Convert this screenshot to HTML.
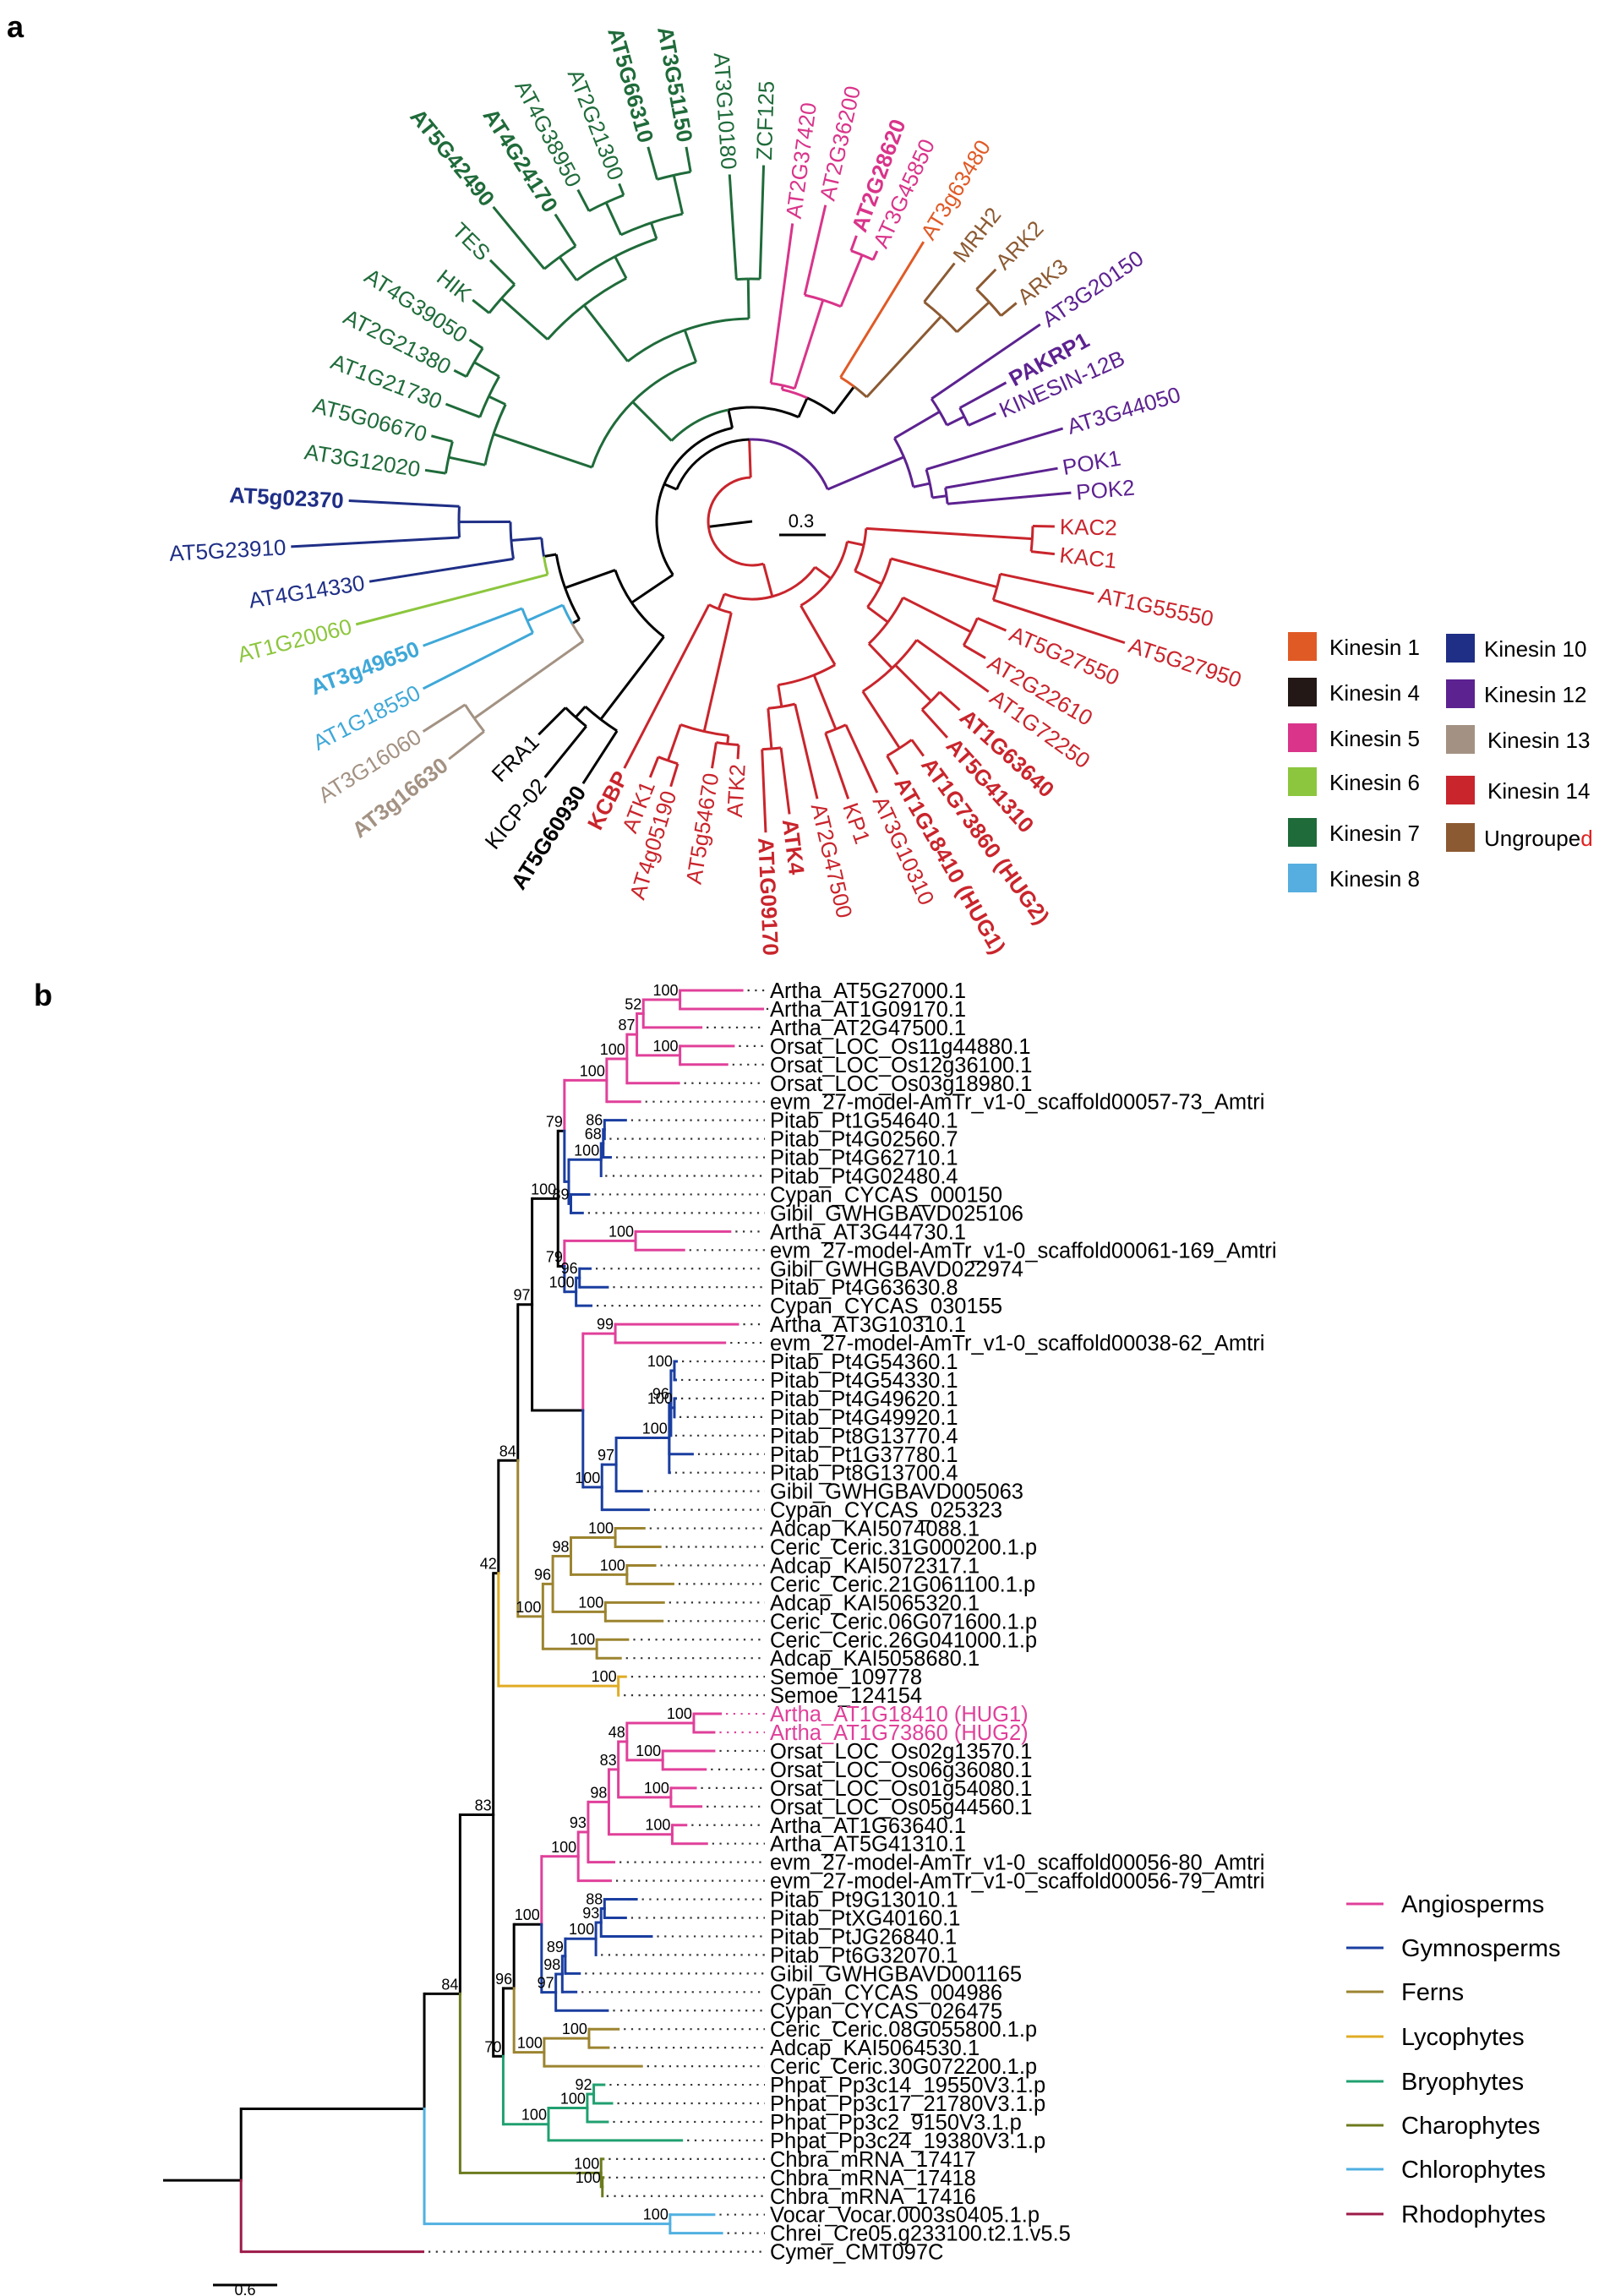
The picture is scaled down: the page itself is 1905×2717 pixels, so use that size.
<!DOCTYPE html>
<html><head><meta charset="utf-8"><style>
html,body{margin:0;padding:0;background:#fff;}
svg{display:block;font-family:"Liberation Sans",Arial,sans-serif;}
</style></head><body>
<svg id="s" width="1905" height="2717" viewBox="0 0 1905 2717" xmlns="http://www.w3.org/2000/svg">
<rect width="1905" height="2717" fill="#fff"/>
<text x="8" y="44" font-size="36" font-weight="bold">a</text>
<text x="40" y="1190" font-size="36" font-weight="bold">b</text>
<g id="ga"></g><g id="gb"></g>
<!-- legend a -->
<g font-size="26">
<rect x="1524" y="748" width="34" height="34" fill="#e05a26"/><text x="1573" y="775">Kinesin 1</text>
<rect x="1524" y="802" width="34" height="34" fill="#231816"/><text x="1573" y="829">Kinesin 4</text>
<rect x="1524" y="856" width="34" height="34" fill="#d9348a"/><text x="1573" y="883">Kinesin 5</text>
<rect x="1524" y="908" width="34" height="34" fill="#8cc63e"/><text x="1573" y="935">Kinesin 6</text>
<rect x="1524" y="968" width="34" height="34" fill="#1f6b3a"/><text x="1573" y="995">Kinesin 7</text>
<rect x="1524" y="1022" width="34" height="34" fill="#55aedf"/><text x="1573" y="1049">Kinesin 8</text>
<rect x="1711" y="750" width="34" height="34" fill="#1f2f86"/><text x="1756" y="777">Kinesin 10</text>
<rect x="1711" y="804" width="34" height="34" fill="#5c2290"/><text x="1756" y="831">Kinesin 12</text>
<rect x="1711" y="858" width="34" height="34" fill="#a39283"/><text x="1760" y="885">Kinesin 13</text>
<rect x="1711" y="918" width="34" height="34" fill="#c9252c"/><text x="1760" y="945">Kinesin 14</text>
<rect x="1711" y="974" width="34" height="34" fill="#8c5a32"/><text x="1756" y="1001">Ungroupe<tspan fill="#e02020">d</tspan></text>
</g>
<!-- legend b -->
<g font-size="29" stroke-width="3">
<line x1="1593" y1="2253" x2="1637" y2="2253" stroke="#e0409a"/><text x="1658" y="2263" stroke="none">Angiosperms</text>
<line x1="1593" y1="2305" x2="1637" y2="2305" stroke="#1a3ea0"/><text x="1658" y="2315" stroke="none">Gymnosperms</text>
<line x1="1593" y1="2357" x2="1637" y2="2357" stroke="#9c8430"/><text x="1658" y="2367" stroke="none">Ferns</text>
<line x1="1593" y1="2410" x2="1637" y2="2410" stroke="#e0ac24"/><text x="1658" y="2420" stroke="none">Lycophytes</text>
<line x1="1593" y1="2463" x2="1637" y2="2463" stroke="#20a070"/><text x="1658" y="2473" stroke="none">Bryophytes</text>
<line x1="1593" y1="2515" x2="1637" y2="2515" stroke="#6c7a1e"/><text x="1658" y="2525" stroke="none">Charophytes</text>
<line x1="1593" y1="2567" x2="1637" y2="2567" stroke="#50b0e0"/><text x="1658" y="2577" stroke="none">Chlorophytes</text>
<line x1="1593" y1="2620" x2="1637" y2="2620" stroke="#9c1a48"/><text x="1658" y="2630" stroke="none">Rhodophytes</text>
</g>
<line x1="252" y1="2704" x2="328" y2="2704" stroke="#000" stroke-width="3"/>
<text x="290" y="2716" font-size="18" text-anchor="middle">0.6</text>
<line x1="922" y1="633" x2="977" y2="633" stroke="#000" stroke-width="3"/>
<text x="948" y="624" font-size="22" text-anchor="middle">0.3</text>
</svg>
<script>
var NS="http://www.w3.org/2000/svg";
function el(p,t,a,txt){var e=document.createElementNS(NS,t);for(var k in a)e.setAttribute(k,a[k]);if(txt!=null)e.textContent=txt;p.appendChild(e);return e;}
var A="#e0409a",G="#1a3ea0",F="#9c8430",Ly="#e0ac24",Br="#20a070",Ch="#6c7a1e",Cl="#50b0e0",R="#9c1a48",K="#000";
function N(x,c,b,ch){return {x:150+x/1.96,c:c,b:b,ch:ch};}
function L(n,x,c,lc){return {x:150+x/1.96,c:c,n:n,lc:lc};}
var HP="#e0409a";
var tb=N(265,K,'',[
 N(690,K,'',[
  N(773,K,'84',[
   N(850,K,'83',[
    N(862,K,'42',[
     N(907,K,'84',[
      N(940,K,'97',[
       N(1000,K,'100',[
        N(1015,K,'79',[
         N(1113,A,'100',[
          N(1160,A,'100',[
           N(1183,A,'87',[
            N(1198,A,'52',[
             N(1283,A,'100',[L('Artha_AT5G27000.1',1430,A),L('Artha_AT1G09170.1',1478,A)]),
             L('Artha_AT2G47500.1',1335,A)]),
            N(1283,A,'100',[L('Orsat_LOC_Os11g44880.1',1410,A),L('Orsat_LOC_Os12g36100.1',1395,A)])]),
           L('Orsat_LOC_Os03g18980.1',1283,A)]),
          L('evm_27-model-AmTr_v1-0_scaffold00057-73_Amtri',1193,A)]),
         N(1025,G,'',[
          N(1100,G,'100',[
           N(1105,G,'68',[N(1108,G,'86',[L('Pitab_Pt1G54640.1',1160,G),L('Pitab_Pt4G02560.7',1110,G)]),L('Pitab_Pt4G62710.1',1125,G)]),
           L('Pitab_Pt4G02480.4',1100,G)]),
          N(1030,G,'89',[L('Cypan_CYCAS_000150',1075,G),L('Gibil_GWHGBAVD025106',1060,G)])])]),
        N(1015,K,'79',[
         N(1180,A,'100',[L('Artha_AT3G44730.1',1402,A),L('evm_27-model-AmTr_v1-0_scaffold00061-169_Amtri',1295,A)]),
         N(1042,G,'100',[N(1050,G,'96',[L('Gibil_GWHGBAVD022974',1078,G),L('Pitab_Pt4G63630.8',1118,G)]),L('Cypan_CYCAS_030155',1080,G)])])]),
       N(1058,K,'',[
        N(1133,A,'99',[L('Artha_AT3G10310.1',1420,A),L('evm_27-model-AmTr_v1-0_scaffold00038-62_Amtri',1390,A)]),
        N(1102,G,'100',[
         N(1135,G,'97',[
          N(1258,G,'100',[
           N(1262,G,'96',[
            N(1270,G,'100',[L('Pitab_Pt4G54360.1',1278,G),L('Pitab_Pt4G54330.1',1276,G)]),
            N(1270,G,'100',[L('Pitab_Pt4G49620.1',1276,G),L('Pitab_Pt4G49920.1',1272,G)]),
            L('Pitab_Pt8G13770.4',1262,G)]),
           L('Pitab_Pt1G37780.1',1315,G),
           L('Pitab_Pt8G13700.4',1262,G)]),
          L('Gibil_GWHGBAVD005063',1197,G)]),
         L('Cypan_CYCAS_025323',1213,G)])])]),
      N(965,F,'100',[
       N(988,F,'96',[
        N(1030,F,'98',[
         N(1133,F,'100',[L('Adcap_KAI5074088.1',1203,F),L('Ceric_Ceric.31G000200.1.p',1240,F)]),
         N(1160,F,'100',[L('Adcap_KAI5072317.1',1228,F),L('Ceric_Ceric.21G061100.1.p',1270,F)])]),
        N(1110,F,'100',[L('Adcap_KAI5065320.1',1248,F),L('Ceric_Ceric.06G071600.1.p',1245,F)])]),
       N(1090,F,'100',[L('Ceric_Ceric.26G041000.1.p',1165,F),L('Adcap_KAI5058680.1',1148,F)])])]),
     N(1140,Ly,'100',[L('Semoe_109778',1160,Ly),L('Semoe_124154',1143,Ly)])]),
    N(873,K,'70',[
     N(898,K,'96',[
      N(962,K,'100',[
       N(1047,A,'100',[
        N(1070,A,'93',[
         N(1118,A,'98',[
          N(1140,A,'83',[
           N(1160,A,'48',[
            N(1315,A,'100',[L('Artha_AT1G18410 (HUG1)',1380,A,HP),L('Artha_AT1G73860 (HUG2)',1365,A,HP)]),
            N(1243,A,'100',[L('Orsat_LOC_Os02g13570.1',1365,A),L('Orsat_LOC_Os06g36080.1',1345,A)])]),
           N(1262,A,'100',[L('Orsat_LOC_Os01g54080.1',1322,A),L('Orsat_LOC_Os05g44560.1',1335,A)])]),
          N(1265,A,'100',[L('Artha_AT1G63640.1',1300,A),L('Artha_AT5G41310.1',1348,A)])]),
         L('evm_27-model-AmTr_v1-0_scaffold00056-80_Amtri',1133,A)]),
        L('evm_27-model-AmTr_v1-0_scaffold00056-79_Amtri',1125,A)]),
       N(995,G,'97',[
        N(1010,G,'98',[
         N(1017,G,'89',[
          N(1088,G,'100',[
           N(1100,G,'93',[N(1108,G,'88',[L('Pitab_Pt9G13010.1',1185,G),L('Pitab_PtXG40160.1',1160,G)]),L('Pitab_PtJG26840.1',1220,G)]),
           L('Pitab_Pt6G32070.1',1090,G)]),
          L('Gibil_GWHGBAVD001165',1053,G)]),
         L('Cypan_CYCAS_004986',1045,G)]),
        L('Cypan_CYCAS_026475',1118,G)])]),
      N(968,F,'100',[N(1072,F,'100',[L('Ceric_Ceric.08G055800.1.p',1143,F),L('Adcap_KAI5064530.1',1120,F)]),L('Ceric_Ceric.30G072200.1.p',1197,F)])]),
     N(978,Br,'100',[N(1068,Br,'100',[N(1083,Br,'92',[L('Phpat_Pp3c14_19550V3.1.p',1110,Br),L('Phpat_Pp3c17_21780V3.1.p',1128,Br)]),L('Phpat_Pp3c2_9150V3.1.p',1118,Br)]),L('Phpat_Pp3c24_19380V3.1.p',1290,Br)])])]),
   N(1100,Ch,'100',[L('Chbra_mRNA_17417',1108,Ch),N(1103,Ch,'100',[L('Chbra_mRNA_17418',1108,Ch),L('Chbra_mRNA_17416',1103,Ch)])])]),
  N(1260,Cl,'100',[L('Vocar_Vocar.0003s0405.1.p',1365,Cl),L('Chrei_Cre05.g233100.t2.1.v5.5',1383,Cl)])]),
 L('Cymer_CMT097C',690,R)
]);
var gb=document.getElementById('gb'),li=0;
function sety(n){if(!n.ch){n.y=1172+li*21.95;li++;return n.y;}n.ch.forEach(sety);n.y=(n.ch[0].y+n.ch[n.ch.length-1].y)/2;return n.y;}
sety(tb);
function drawB(n,p){
 if(p){el(gb,'line',{x1:p.x,y1:p.y,x2:p.x,y2:n.y,stroke:n.c,'stroke-width':3,'stroke-linecap':'square'});
  el(gb,'line',{x1:p.x,y1:n.y,x2:n.x,y2:n.y,stroke:n.c,'stroke-width':3});}
 if(n.ch){n.ch.forEach(function(c){drawB(c,n);});
  if(n.b)el(gb,'text',{x:n.x-2,y:n.y-5,'font-size':18,'text-anchor':'end'},n.b);}
 else{el(gb,'line',{x1:n.x+5,y1:n.y,x2:905,y2:n.y,stroke:n.lc||'#333','stroke-width':2.2,'stroke-dasharray':'2.2,6.5'});
  el(gb,'text',{x:911,y:n.y+9,'font-size':25.5,fill:n.lc||'#000'},n.n);}
}
el(gb,'line',{x1:193,y1:tb.y,x2:tb.x,y2:tb.y,stroke:K,'stroke-width':3});
drawB(tb,null);
var cx=890,cy=617;
var cR="#c9252c",cG="#1f6b3a",cN="#1f2f86",cLi="#8cc63e",cLB="#3fa8d8",cT="#a39283",cP="#d9348a",cO="#e05a26",cBr="#8c5a32",cPu="#5c2290",cK="#000";
function lf(n,zx,zy,c,b){var X=zx*1.221,Y=zy*0.7244,dx=X-cx,dy=Y-cy;var a=Math.atan2(dy,dx)*180/Math.PI;if(a<120)a+=360;return {n:n,r:Math.sqrt(dx*dx+dy*dy),a:a,c:c,b:b};}
function nd(r,c,ch,a){return {r:r,c:c,ch:ch,ao:a};}
var ta=nd(52,cK,[
 nd(97,cR,[
  nd(113,cK,[
   nd(172,cK,[
    nd(295,cK,[lf('AT5G60930',565,1280,cK,1),nd(312,cK,[lf('KICP-02',528,1270,cK),lf('FRA1',522,1200,cK)])]),
    nd(235,cK,[
     nd(245,cK,[
      nd(403,cT,[lf('AT3g16630',435,1240,cT,1),lf('AT3G16060',410,1195,cT)]),
      nd(291,cLB,[lf('AT1G18550',410,1125,cLB),lf('AT3g49650',410,1055,cLB,1)])]),
     nd(250,cK,[
      lf('AT1G20060',345,1020,cLi),
      nd(286,cN,[lf('AT4G14330',358,950,cN),nd(347,cN,[lf('AT5G23910',282,893,cN),lf('AT5g02370',338,818,cN,1)])])])])
   ],146),
   nd(135,cK,[
    nd(200,cG,[
     nd(323,cG,[
      nd(367,cG,[lf('AT3G12020',412,768,cG),lf('AT5G06670',418,712,cG)]),
      nd(345,cG,[lf('AT1G21730',432,660,cG),nd(379,cG,[lf('AT2G21380',440,605,cG),lf('AT4G39050',455,555,cG)])])]),
     nd(240,cG,[
      nd(324,cG,[
       nd(397,cG,[lf('HIK',458,490,cG),lf('TES',475,425,cG)]),
       nd(353,cG,[
        nd(387,cG,[lf('AT5G42490',478,338,cG,1),lf('AT4G24170',538,350,cG,1)]),
        nd(373,cG,[
         nd(415,cG,[lf('AT4G38950',560,310,cG),lf('AT2G21300',600,300,cG)]),
         nd(420,cG,[lf('AT5G66310',628,240,cG,1),lf('AT3G51150',665,240,cG,1)])])])]),
      nd(287,cG,[lf('AT3G10180',707,285,cG),lf('ZCF125',740,270,cG)])])
    ],225),
    nd(160,cK,[
     nd(165,cP,[lf('AT2G37420',768,365,cP),nd(275,cP,[lf('AT2G36200',800,335,cP),nd(341,cP,[lf('AT2G28620',830,385,cP,1),lf('AT3G45850',850,410,cP)])])]),
     nd(200,cK,[lf('AT3g63480',895,395,cO),nd(330,cBr,[lf('MRH2',925,430,cBr),nd(382,cBr,[lf('ARK2',965,440,cBr),lf('ARK3',985,495,cBr)])])])
    ],294)
   ],258)
  ],203),
  nd(195,cPu,[
   nd(257,cPu,[lf('AT3G20150',1008,530,cPu),nd(280,cPu,[lf('PAKRP1',975,625,cPu,1),lf('KINESIN-12B',965,675,cPu)])]),
   nd(215,cPu,[lf('AT3G44050',1030,700,cPu),nd(232,cPu,[lf('POK1',1025,765,cPu),lf('POK2',1038,805,cPu)])])
  ],337)
 ],268),
 nd(92,cR,[
  nd(115,cR,[
   nd(135,cR,[
    nd(332,cR,[lf('KAC2',1022,860,cR),lf('KAC1',1022,905,cR)]),
    nd(170,cR,[
     nd(300,cR,[lf('AT1G55550',1060,970,cR),lf('AT5G27950',1090,1050,cR)]),
     nd(200,cR,[
      nd(290,cR,[lf('AT5G27550',975,1030,cR),lf('AT2G22610',955,1075,cR)]),
      nd(240,cR,[lf('AT1G72250',958,1130,cR),
       nd(300,cR,[lf('AT1G63640',930,1160,cR,1),lf('AT5G41310',918,1205,cR,1)]),
       nd(320,cR,[lf('AT1G73860 (HUG2)',895,1235,cR,1),lf('AT1G18410 (HUG1)',870,1265,cR,1)])])])])
   ],372),
   nd(196,cR,[
    nd(265,cR,[lf('AT3G10310',850,1295,cR),lf('KP1',822,1305,cR)]),
    nd(222,cR,[lf('AT2G47500',792,1305,cR),nd(270,cR,[lf('ATK4',765,1330,cR,1),lf('AT1G09170',742,1360,cR,1)])])
   ],420)
  ],396),
  nd(111,cR,[
   nd(255,cR,[
    nd(265,cR,[lf('ATK2',715,1240,cR),lf('AT5g54670',690,1255,cR)]),
    nd(300,cR,[lf('AT4g05190',650,1285,cR),lf('ATK1',630,1270,cR)])]),
   lf('KCBP',605,1255,cR,1)
  ],471)
 ],435)
],173);
var ga=document.getElementById('ga');
function seta(n){if(!n.ch)return n.a;var mn=1e9,mx=-1e9;n.ch.forEach(function(c){var a=seta(c);mn=Math.min(mn,a);mx=Math.max(mx,a);});n.a=(n.ao!=null)?n.ao:(mn+mx)/2;return n.a;}
seta(ta);
function pt(r,a){var t=a*Math.PI/180;return [cx+r*Math.cos(t),cy+r*Math.sin(t)];}
function drawA(n,p){
 if(p){var p1=pt(p.r,p.a),p2=pt(p.r,n.a);var d=((n.a-p.a)%360+540)%360-180;
  if(Math.abs(d)>0.01)el(ga,'path',{d:'M'+p1[0]+','+p1[1]+' A'+p.r+','+p.r+' 0 0 '+(d>0?1:0)+' '+p2[0]+','+p2[1],fill:'none',stroke:n.c,'stroke-width':3});
  var q=pt(n.r,n.a);el(ga,'line',{x1:p2[0],y1:p2[1],x2:q[0],y2:q[1],stroke:n.c,'stroke-width':3});}
 if(n.ch)n.ch.forEach(function(c){drawA(c,n);});
 else{var q=pt(n.r+6,n.a);var aa=((n.a%360)+360)%360;var left=aa>90&&aa<270;
  el(ga,'text',{x:q[0],y:q[1],'font-size':26,fill:n.c,'font-weight':n.b?'bold':'normal','text-anchor':left?'end':'start',dy:'0.35em',transform:'rotate('+(left?aa-180:aa)+' '+q[0]+' '+q[1]+')'},n.n);}
}
var rp=pt(ta.r,ta.a);el(ga,'line',{x1:rp[0],y1:rp[1],x2:cx,y2:cy,stroke:'#000','stroke-width':3});
drawA(ta,null);
</script>
</body></html>
